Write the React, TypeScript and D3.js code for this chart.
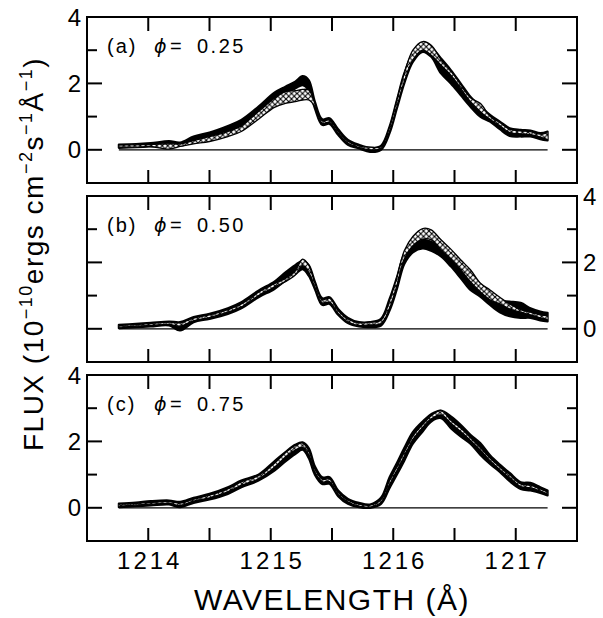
import React from "react";
import * as d3 from "d3";

// Wavelength grid (Angstrom) shared by all three panels
const wavelength = [
  1213.76, 1213.9, 1214.02, 1214.17, 1214.26, 1214.37, 1214.5, 1214.65, 1214.76, 1214.9,
  1215.03, 1215.12, 1215.2, 1215.26, 1215.31, 1215.36, 1215.42, 1215.48, 1215.55, 1215.63,
  1215.72, 1215.81, 1215.9, 1215.97, 1216.03, 1216.09, 1216.16, 1216.24, 1216.31, 1216.39,
  1216.47, 1216.55, 1216.63, 1216.71, 1216.79, 1216.87, 1216.95, 1217.04, 1217.12, 1217.2,
  1217.26,
];

// (a) phi = 0.25 : observed envelope (solid) and model envelope (hatched)
const obsLoA = [0.06, 0.08, 0.1, 0.13, 0.12, 0.25, 0.36, 0.52, 0.7, 1.1, 1.55, 1.72, 1.85, 1.95, 1.8, 1.25, 0.75, 0.78, 0.45, 0.15, 0.04, -0.06, 0.0, 0.5, 1.25, 2.0, 2.65, 2.95, 2.8, 2.3, 2.0, 1.65, 1.3, 1.0, 0.85, 0.62, 0.42, 0.4, 0.4, 0.32, 0.28];
const obsHiA = [0.16, 0.17, 0.2, 0.26, 0.22, 0.4, 0.52, 0.72, 0.9, 1.3, 1.72, 1.9, 2.05, 2.22, 2.1, 1.45, 0.92, 0.95, 0.62, 0.3, 0.15, 0.06, 0.12, 0.7, 1.5, 2.3, 2.9, 3.15, 3.08, 2.75, 2.4, 2.0, 1.6, 1.3, 1.05, 0.85, 0.65, 0.6, 0.58, 0.5, 0.55];
const modLoA = [0.08, 0.08, 0.1, 0.02, 0.1, 0.18, 0.25, 0.4, 0.55, 0.92, 1.28, 1.4, 1.45, 1.5, 1.5, 1.3, 0.8, 0.83, 0.5, 0.2, 0.07, 0.0, 0.04, 0.55, 1.3, 2.05, 2.7, 3.0, 2.85, 2.55, 2.25, 1.85, 1.45, 1.15, 0.92, 0.72, 0.52, 0.48, 0.46, 0.38, 0.3];
const modHiA = [0.14, 0.15, 0.16, 0.18, 0.18, 0.28, 0.4, 0.55, 0.72, 1.15, 1.55, 1.75, 1.78, 1.82, 1.8, 1.4, 0.87, 0.9, 0.56, 0.26, 0.12, 0.08, 0.1, 0.68, 1.5, 2.3, 3.0, 3.26, 3.15, 2.72, 2.38, 1.97, 1.57, 1.4, 1.02, 0.82, 0.62, 0.57, 0.55, 0.47, 0.52];

// (b) phi = 0.50
const obsLoB = [0.02, 0.05, 0.07, 0.1, -0.05, 0.2, 0.3, 0.45, 0.62, 0.95, 1.2, 1.45, 1.65, 1.8, 1.6, 1.2, 0.72, 0.75, 0.42, 0.17, 0.07, 0.05, 0.1, 0.55, 1.2, 1.95, 2.3, 2.42, 2.35, 2.18, 1.88, 1.53, 1.17, 0.97, 0.72, 0.5, 0.38, 0.33, 0.33, 0.25, 0.22];
const obsHiB = [0.12, 0.15, 0.18, 0.22, 0.2, 0.35, 0.45, 0.62, 0.8, 1.15, 1.42, 1.7, 1.92, 2.05, 1.92, 1.42, 0.92, 0.95, 0.6, 0.33, 0.2, 0.2, 0.3, 0.9, 1.55, 2.25, 2.52, 2.68, 2.62, 2.42, 2.15, 1.85, 1.5, 1.25, 1.0, 0.85, 0.82, 0.78, 0.62, 0.52, 0.48];
const modLoB = [0.05, 0.08, 0.1, 0.13, 0.08, 0.24, 0.34, 0.5, 0.66, 1.0, 1.26, 1.42, 1.62, 1.9, 1.7, 1.25, 0.78, 0.8, 0.46, 0.2, 0.1, 0.12, 0.15, 0.62, 1.3, 2.1, 2.5, 2.7, 2.68, 2.38, 2.1, 1.78, 1.42, 1.12, 0.87, 0.75, 0.6, 0.5, 0.42, 0.33, 0.28];
const modHiB = [0.1, 0.13, 0.16, 0.2, 0.18, 0.32, 0.42, 0.58, 0.75, 1.1, 1.36, 1.52, 1.75, 2.1, 1.92, 1.38, 0.88, 0.92, 0.56, 0.3, 0.18, 0.2, 0.26, 0.85, 1.55, 2.35, 2.78, 3.02, 2.98, 2.68, 2.4, 2.08, 1.78, 1.38, 1.17, 0.95, 0.75, 0.58, 0.5, 0.42, 0.4];

// (c) phi = 0.75
const obsLoC = [0.02, 0.05, 0.07, 0.1, 0.02, 0.15, 0.25, 0.42, 0.62, 0.82, 1.12, 1.4, 1.62, 1.75, 1.5, 1.0, 0.72, 0.72, 0.35, 0.12, 0.02, 0.0, 0.12, 0.6, 1.0, 1.42, 1.93, 2.3, 2.6, 2.7, 2.4, 2.15, 1.93, 1.6, 1.32, 1.08, 0.8, 0.57, 0.52, 0.45, 0.37];
const obsHiC = [0.13, 0.16, 0.2, 0.22, 0.18, 0.3, 0.42, 0.62, 0.82, 1.0, 1.4, 1.68, 1.9, 1.97, 1.8, 1.25, 0.92, 0.92, 0.52, 0.27, 0.15, 0.1, 0.3, 0.92, 1.35, 1.8, 2.28, 2.6, 2.82, 2.93, 2.75, 2.5, 2.2, 1.95, 1.58, 1.3, 1.05, 0.77, 0.75, 0.62, 0.52];
const modLoC = [0.05, 0.08, 0.11, 0.13, 0.07, 0.2, 0.3, 0.48, 0.68, 0.87, 1.22, 1.52, 1.74, 1.82, 1.6, 1.08, 0.78, 0.79, 0.4, 0.17, 0.05, 0.02, 0.17, 0.7, 1.12, 1.55, 2.05, 2.42, 2.68, 2.8, 2.54, 2.3, 2.03, 1.74, 1.42, 1.15, 0.9, 0.64, 0.6, 0.5, 0.42];
const modHiC = [0.11, 0.13, 0.16, 0.19, 0.14, 0.26, 0.38, 0.57, 0.78, 0.97, 1.34, 1.66, 1.88, 1.95, 1.72, 1.17, 0.86, 0.87, 0.47, 0.23, 0.11, 0.08, 0.25, 0.82, 1.24, 1.68, 2.16, 2.52, 2.78, 2.93, 2.64, 2.4, 2.12, 1.82, 1.5, 1.24, 1.0, 0.72, 0.68, 0.57, 0.48];

const panelLetters = ["(a)", "(b)", "(c)"];
const phases = ["0.25", "0.50", "0.75"];
const xTicks = [1214, 1214.5, 1215, 1215.5, 1216, 1216.5, 1217];
const xTickLabels = [1214, 1215, 1216, 1217];
const yTicks = [0, 1, 2, 3];
const yTickLabels = [0, 2, 4];

const series = [
  { obsLo: obsLoA, obsHi: obsHiA, modLo: modLoA, modHi: modHiA },
  { obsLo: obsLoB, obsHi: obsHiB, modLo: modLoB, modHi: modHiB },
  { obsLo: obsLoC, obsHi: obsHiC, modLo: modLoC, modHi: modHiC },
];

const W = 603;
const H = 618;
const left = 87;
const right = 577;
const panelH = 166;
const panelTops = [17, 196, 375];
const font = "'Liberation Sans', Arial, Helvetica, sans-serif";

const x = d3.scaleLinear().domain([1213.5, 1217.5]).range([left, right]);

function Panel({ idx }: { idx: number }) {
  const top = panelTops[idx];
  const y = d3.scaleLinear().domain([-1, 4]).range([top + panelH, top]);
  const s = series[idx];
  const band = (lo: number[], hi: number[]) =>
    d3
      .area<number>()
      .x((w) => x(w))
      .y0((_, i) => y(lo[i]))
      .y1((_, i) => y(hi[i]))
      .curve(d3.curveCatmullRom)(wavelength) || "";
  const edge = (v: number[]) =>
    d3
      .line<number>()
      .x((w) => x(w))
      .y((_, i) => y(v[i]))
      .curve(d3.curveCatmullRom)(wavelength) || "";
  const labelRight = idx === 1;

  return (
    <g>
      {/* zero line */}
      <line
        x1={x(wavelength[0])}
        x2={x(wavelength[wavelength.length - 1])}
        y1={y(0)}
        y2={y(0)}
        stroke="#000"
        strokeWidth={1.3}
      />
      {/* observed spectra envelope */}
      <path d={band(s.obsLo, s.obsHi)} fill="#000" stroke="#000" strokeWidth={2.2} strokeLinejoin="round" />
      {/* model envelope, cross-hatched */}
      <path d={band(s.modLo, s.modHi)} fill="url(#xhatch)" stroke="none" />
      <path d={edge(s.modLo)} fill="none" stroke="#000" strokeWidth={1.3} />
      <path d={edge(s.modHi)} fill="none" stroke="#000" strokeWidth={1.3} />

      {/* frame */}
      <rect x={left} y={top} width={right - left} height={panelH} fill="none" stroke="#000" strokeWidth={2} />
      {xTicks.map((t) => (
        <g key={t}>
          <line x1={x(t)} x2={x(t)} y1={top} y2={top + 14} stroke="#000" strokeWidth={2} />
          <line x1={x(t)} x2={x(t)} y1={top + panelH} y2={top + panelH - 13} stroke="#000" strokeWidth={2} />
        </g>
      ))}
      {yTicks.map((t) => {
        const len = t % 2 === 0 ? 15 : 10;
        return (
          <g key={t}>
            <line x1={left} x2={left + len} y1={y(t)} y2={y(t)} stroke="#000" strokeWidth={2} />
            <line x1={right} x2={right - len} y1={y(t)} y2={y(t)} stroke="#000" strokeWidth={2} />
          </g>
        );
      })}
      {yTickLabels.map((t) => (
        <text
          key={t}
          x={labelRight ? right + 6 : left - 6}
          y={y(t) + 8.5}
          textAnchor={labelRight ? "start" : "end"}
          fontSize={24}
          fontFamily={font}
        >
          {t}
        </text>
      ))}

      {/* panel label */}
      <g fontFamily={font} fontSize={20}>
        <text x={107} y={top + 36} letterSpacing={2}>
          {panelLetters[idx]}
        </text>
        <text x={154} y={top + 36} fontStyle="italic" fontFamily="'DejaVu Sans', sans-serif" fontSize={19}>
          ϕ
        </text>
        <text x={170} y={top + 36}>
          =
        </text>
        <text x={197} y={top + 36} letterSpacing={2.5}>
          {phases[idx]}
        </text>
      </g>
    </g>
  );
}

export default function App() {
  const bottom = panelTops[2] + panelH;
  return (
    <svg
      width={W}
      height={H}
      viewBox={`0 0 ${W} ${H}`}
      style={{ position: "absolute", left: 0, top: 0, background: "#fff" }}
    >
      <defs>
        <pattern id="xhatch" width={5.5} height={5.5} patternUnits="userSpaceOnUse">
          <rect width={5.5} height={5.5} fill="#fff" />
          <path d="M0,0L5.5,5.5M5.5,0L0,5.5" stroke="#000" strokeWidth={1.1} />
        </pattern>
      </defs>
      <rect width={W} height={H} fill="#fff" />
      {[0, 1, 2].map((i) => (
        <Panel key={i} idx={i} />
      ))}

      {xTickLabels.map((t) => (
        <text
          key={t}
          x={x(t) + 1.5}
          y={bottom + 28}
          textAnchor="middle"
          fontSize={24}
          letterSpacing={3}
          fontFamily={font}
        >
          {t}
        </text>
      ))}
      <text x={(left + right) / 2} y={610} textAnchor="middle" fontSize={30} letterSpacing={1.5} fontFamily={font}>
        WAVELENGTH (Å)
      </text>

      <text
        transform="translate(43,254) rotate(-90)"
        textAnchor="middle"
        fontSize={28}
        letterSpacing={1.5}
        fontFamily={font}
      >
        FLUX (10
        <tspan fontSize={18} dy={-11}>−10</tspan>
        <tspan dy={11}>ergs cm</tspan>
        <tspan fontSize={18} dy={-11}>−2</tspan>
        <tspan dy={11}>s</tspan>
        <tspan fontSize={18} dy={-11}>−1</tspan>
        <tspan dy={11}>Å</tspan>
        <tspan fontSize={18} dy={-11}>−1</tspan>
        <tspan dy={11}>)</tspan>
      </text>
    </svg>
  );
}
